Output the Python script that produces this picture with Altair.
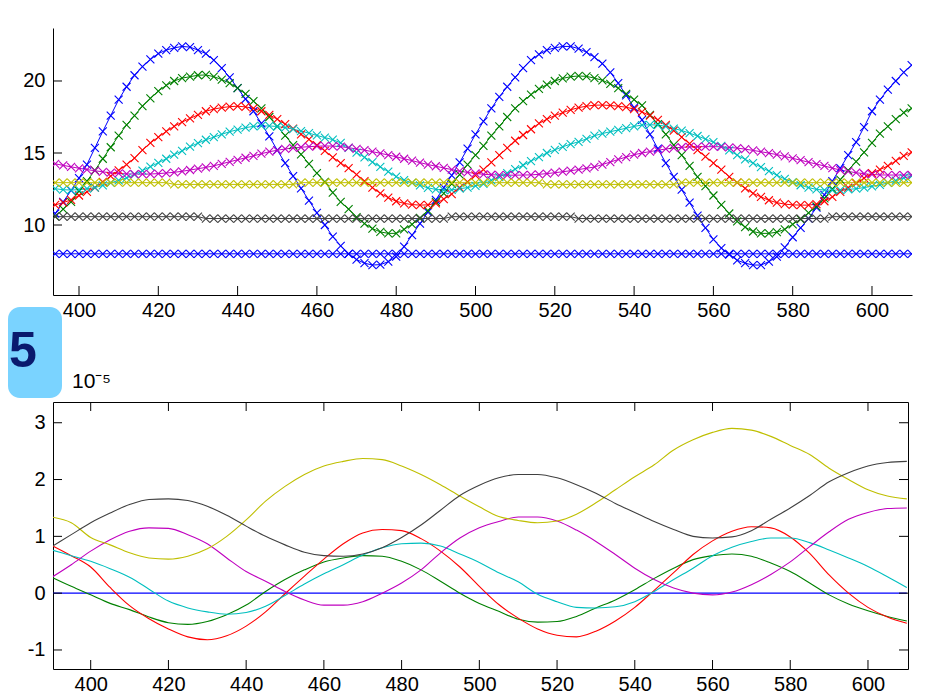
import altair as alt
import pandas as pd

FONT = "Liberation Sans, Arial, Helvetica, sans-serif"

# ---------------- top panel (wavelength grid) -------------
top_wl = list(range(394, 611, 2))

top_blue = [
    10.8, 11.6, 12.4, 13.25, 14.2, 15.35, 16.5, 17.6, 18.7, 19.6,
    20.4, 21.0, 21.5, 21.9, 22.15, 22.3, 22.4, 22.35, 22.15, 21.9,
    21.45, 20.9, 20.25, 19.5, 18.75, 17.9, 17.05, 16.15, 15.2, 14.3,
    13.4, 12.55, 11.7, 10.85, 10.0, 9.2, 8.55, 8.0, 7.6, 7.35,
    7.22, 7.25, 7.45, 7.8, 8.5, 9.3, 10.1, 10.9, 11.75, 12.6,
    13.45, 14.35, 15.3, 16.3, 17.2, 18.1, 18.9, 19.6, 20.25, 20.9,
    21.45, 21.85, 22.15, 22.3, 22.4, 22.4, 22.25, 22.0, 21.65, 21.2,
    20.6, 19.85, 19.0, 18.15, 17.3, 16.3, 15.3, 14.3, 13.35, 12.45,
    11.55, 10.65, 9.8, 9.0, 8.4, 7.95, 7.55, 7.35, 7.22, 7.22,
    7.45, 7.8, 8.45, 9.15, 9.8, 10.45, 11.2, 12.1, 13.05, 13.95,
    14.85, 15.75, 16.8, 17.9, 18.7, 19.4, 20.0, 20.6, 21.1,
]
top_green = [
    10.6, 11.1, 11.6, 12.35, 13.05, 13.8, 14.6, 15.4, 16.2, 16.95,
    17.6, 18.25, 18.8, 19.3, 19.7, 20.0, 20.2, 20.3, 20.4, 20.42,
    20.3, 20.1, 19.85, 19.5, 19.1, 18.6, 18.1, 17.5, 16.85, 16.2,
    15.55, 14.9, 14.25, 13.6, 13.0, 12.25, 11.6, 11.1, 10.55, 10.1,
    9.75, 9.52, 9.42, 9.42, 9.7, 10.05, 10.5, 11.0, 11.6, 12.2,
    12.85, 13.5, 14.2, 14.85, 15.5, 16.2, 16.85, 17.5, 18.1, 18.6,
    19.05, 19.45, 19.75, 20.0, 20.18, 20.3, 20.35, 20.32, 20.2, 20.05,
    19.8, 19.5, 19.1, 18.7, 18.3, 17.65, 17.0, 16.3, 15.55, 14.85,
    14.1, 13.35, 12.7, 12.05, 11.4, 10.8, 10.25, 9.85, 9.55, 9.42,
    9.42, 9.5, 9.7, 10.05, 10.4, 10.85, 11.3, 11.85, 12.5, 13.15,
    13.8, 14.4, 15.05, 15.7, 16.35, 16.85, 17.35, 17.8, 18.1,
]
top_red = [
    11.4, 11.55, 11.75, 12.05, 12.3, 12.6, 13.0, 13.4, 13.8, 14.2,
    14.65, 15.2, 15.7, 16.1, 16.5, 16.85, 17.15, 17.4, 17.65, 17.9,
    18.05, 18.15, 18.22, 18.25, 18.2, 18.1, 17.9, 17.65, 17.35, 17.0,
    16.7, 16.3, 15.95, 15.55, 15.15, 14.7, 14.3, 13.95, 13.5, 13.05,
    12.6, 12.2, 11.9, 11.65, 11.5, 11.42, 11.38, 11.4, 11.5, 11.8,
    12.15, 12.6, 13.0, 13.45, 13.85, 14.35, 14.85, 15.35, 15.85, 16.25,
    16.65, 17.05, 17.35, 17.6, 17.8, 18.0, 18.15, 18.25, 18.32, 18.33,
    18.3, 18.25, 18.18, 18.05, 17.85, 17.6, 17.3, 16.95, 16.55, 16.1,
    15.65, 15.2, 14.75, 14.3, 13.85, 13.35, 12.95, 12.55, 12.2, 11.95,
    11.72, 11.55, 11.45, 11.4, 11.38, 11.38, 11.45, 11.65, 11.95, 12.3,
    12.6, 12.9, 13.25, 13.6, 13.85, 14.1, 14.45, 14.8, 15.05,
]
top_cyan = [
    12.52, 12.45, 12.43, 12.45, 12.52, 12.6, 12.75, 12.92, 13.1, 13.27,
    13.5, 13.78, 14.05, 14.32, 14.6, 14.88, 15.15, 15.44, 15.68, 15.92,
    16.1, 16.3, 16.48, 16.62, 16.76, 16.85, 16.88, 16.88, 16.84, 16.76,
    16.66, 16.52, 16.38, 16.22, 16.07, 15.93, 15.7, 15.35, 15.02, 14.7,
    14.37, 14.04, 13.7, 13.36, 13.12, 12.92, 12.75, 12.58, 12.47, 12.43,
    12.44, 12.52, 12.6, 12.72, 12.85, 13.1, 13.33, 13.6, 13.88, 14.15,
    14.44, 14.72, 15.0, 15.22, 15.43, 15.62, 15.78, 15.98, 16.2, 16.35,
    16.48, 16.6, 16.72, 16.85, 16.94, 16.96, 16.94, 16.85, 16.7, 16.56,
    16.38, 16.18, 15.97, 15.75, 15.5, 15.18, 14.85, 14.56, 14.3, 14.02,
    13.74, 13.46, 13.2, 12.97, 12.76, 12.6, 12.47, 12.43, 12.42, 12.43,
    12.47, 12.52, 12.6, 12.69, 12.78, 12.92, 13.08, 13.27, 13.4,
]
top_magenta = [
    14.25, 14.14, 14.04, 13.94, 13.85, 13.77, 13.69, 13.63, 13.58, 13.55,
    13.54, 13.53, 13.54, 13.57, 13.61, 13.66, 13.73, 13.82, 13.91, 14.0,
    14.11, 14.25, 14.39, 14.53, 14.67, 14.8, 14.95, 15.09, 15.19, 15.28,
    15.35, 15.4, 15.44, 15.47, 15.49, 15.48, 15.44, 15.37, 15.28, 15.2,
    15.09, 14.98, 14.86, 14.74, 14.6, 14.47, 14.33, 14.2, 14.08, 13.96,
    13.85, 13.74, 13.65, 13.58, 13.52, 13.49, 13.47, 13.46, 13.46, 13.47,
    13.48, 13.52, 13.57, 13.63, 13.7, 13.77, 13.85, 13.94, 14.03, 14.2,
    14.37, 14.55, 14.72, 14.88, 15.0, 15.1, 15.19, 15.28, 15.35, 15.4,
    15.42, 15.44, 15.44, 15.44, 15.43, 15.39, 15.34, 15.27, 15.18, 15.09,
    14.99, 14.89, 14.76, 14.63, 14.5, 14.36, 14.23, 14.1, 13.95, 13.82,
    13.72, 13.63, 13.56, 13.51, 13.48, 13.47, 13.47, 13.47, 13.48,
]
top_yellow = [
    12.94, 12.94, 12.94, 12.94, 12.94, 12.94, 12.94, 12.94, 12.94, 12.94,
    12.94, 12.94, 12.94, 12.94, 12.94, 12.82, 12.82, 12.82, 12.82, 12.82,
    12.82, 12.82, 12.82, 12.82, 12.82, 12.82, 12.82, 12.82, 12.82, 12.82,
    12.82, 12.94, 12.94, 12.94, 12.94, 12.94, 12.94, 12.94, 12.94, 12.94,
    12.94, 12.94, 12.94, 12.94, 12.94, 12.94, 12.94, 12.94, 12.94, 12.94,
    12.94, 12.94, 12.94, 12.94, 12.94, 12.94, 12.94, 12.94, 12.94, 12.94,
    12.94, 12.94, 12.82, 12.82, 12.82, 12.82, 12.82, 12.82, 12.82, 12.82,
    12.82, 12.82, 12.82, 12.82, 12.82, 12.82, 12.82, 12.82, 12.82, 12.94,
    12.94, 12.94, 12.94, 12.94, 12.94, 12.94, 12.94, 12.94, 12.94, 12.94,
    12.94, 12.94, 12.94, 12.94, 12.94, 12.94, 12.94, 12.94, 12.94, 12.94,
    12.94, 12.94, 12.94, 12.94, 12.94, 12.94, 12.94, 12.94, 12.94,
]
top_gray = [
    10.58, 10.58, 10.58, 10.58, 10.58, 10.58, 10.58, 10.58, 10.58, 10.58,
    10.58, 10.58, 10.58, 10.58, 10.58, 10.58, 10.58, 10.58, 10.58, 10.45,
    10.45, 10.45, 10.45, 10.45, 10.45, 10.45, 10.45, 10.45, 10.45, 10.45,
    10.45, 10.45, 10.45, 10.45, 10.45, 10.45, 10.45, 10.45, 10.45, 10.45,
    10.45, 10.45, 10.45, 10.45, 10.45, 10.45, 10.45, 10.45, 10.45, 10.45,
    10.58, 10.58, 10.58, 10.58, 10.58, 10.58, 10.58, 10.58, 10.58, 10.58,
    10.58, 10.58, 10.58, 10.58, 10.58, 10.58, 10.45, 10.45, 10.45, 10.45,
    10.45, 10.45, 10.45, 10.45, 10.45, 10.45, 10.45, 10.45, 10.45, 10.45,
    10.45, 10.45, 10.45, 10.45, 10.45, 10.45, 10.45, 10.45, 10.45, 10.45,
    10.45, 10.45, 10.45, 10.45, 10.45, 10.45, 10.45, 10.45, 10.58, 10.58,
    10.58, 10.58, 10.58, 10.58, 10.58, 10.58, 10.58, 10.58, 10.58,
]
top_blue_flat = [
    8.0, 8.0, 8.0, 8.0, 8.0, 8.0, 8.0, 8.0, 8.0, 8.0,
    8.0, 8.0, 8.0, 8.0, 8.0, 8.0, 8.0, 8.0, 8.0, 8.0,
    8.0, 8.0, 8.0, 8.0, 8.0, 8.0, 8.0, 8.0, 8.0, 8.0,
    8.0, 8.0, 8.0, 8.0, 8.0, 8.0, 8.0, 8.0, 8.0, 8.0,
    8.0, 8.0, 8.0, 8.0, 8.0, 8.0, 8.0, 8.0, 8.0, 8.0,
    8.0, 8.0, 8.0, 8.0, 8.0, 8.0, 8.0, 8.0, 8.0, 8.0,
    8.0, 8.0, 8.0, 8.0, 8.0, 8.0, 8.0, 8.0, 8.0, 8.0,
    8.0, 8.0, 8.0, 8.0, 8.0, 8.0, 8.0, 8.0, 8.0, 8.0,
    8.0, 8.0, 8.0, 8.0, 8.0, 8.0, 8.0, 8.0, 8.0, 8.0,
    8.0, 8.0, 8.0, 8.0, 8.0, 8.0, 8.0, 8.0, 8.0, 8.0,
    8.0, 8.0, 8.0, 8.0, 8.0, 8.0, 8.0, 8.0, 8.0,
]

# ---------------- bottom panel (values in units of 1e-5) ---------------------------------
bot_wl = list(range(390, 611, 5))

bot_blue = [
    0.0, 0.0, 0.0, 0.0, 0.0, 0.0, 0.0, 0.0, 0.0, 0.0,
    0.0, 0.0, 0.0, 0.0, 0.0, 0.0, 0.0, 0.0, 0.0, 0.0,
    0.0, 0.0, 0.0, 0.0, 0.0, 0.0, 0.0, 0.0, 0.0, 0.0,
    0.0, 0.0, 0.0, 0.0, 0.0, 0.0, 0.0, 0.0, 0.0, 0.0,
    0.0, 0.0, 0.0, 0.0, 0.0,
]
bot_green = [
    0.28, 0.12, -0.03, -0.18, -0.29, -0.42, -0.52, -0.55, -0.5, -0.38,
    -0.21, 0.03, 0.24, 0.41, 0.55, 0.62, 0.66, 0.65, 0.56, 0.41,
    0.21, 0.0, -0.18, -0.32, -0.46, -0.51, -0.5, -0.41, -0.26, -0.12,
    0.06, 0.26, 0.44, 0.59, 0.66, 0.69, 0.65, 0.53, 0.38, 0.18,
    -0.03, -0.19, -0.31, -0.41, -0.49,
]
bot_red = [
    0.84, 0.66, 0.46, 0.1, -0.22, -0.45, -0.63, -0.77, -0.82, -0.75,
    -0.58, -0.33, -0.01, 0.3, 0.6, 0.87, 1.06, 1.12, 1.1, 0.96,
    0.74, 0.46, 0.12, -0.2, -0.44, -0.63, -0.74, -0.77, -0.67, -0.49,
    -0.25, 0.05, 0.36, 0.68, 0.92, 1.09, 1.17, 1.15, 0.99, 0.7,
    0.32, 0.0, -0.25, -0.42, -0.53,
]
bot_cyan = [
    0.76, 0.66, 0.56, 0.43, 0.28, 0.07, -0.14, -0.26, -0.33, -0.37,
    -0.34, -0.23, -0.04, 0.16, 0.34, 0.5, 0.67, 0.8, 0.87, 0.88,
    0.83, 0.69, 0.54, 0.36, 0.2, -0.02, -0.15, -0.25, -0.26, -0.24,
    -0.15, 0.03, 0.24, 0.44, 0.66, 0.81, 0.91, 0.97, 0.97, 0.89,
    0.76, 0.62, 0.47, 0.29, 0.1,
]
bot_magenta = [
    0.28, 0.5, 0.74, 0.94, 1.09, 1.15, 1.14, 1.03, 0.87, 0.62,
    0.38, 0.21, 0.03, -0.12, -0.21, -0.21, -0.15, 0.0, 0.18, 0.41,
    0.71, 0.97, 1.15, 1.26, 1.34, 1.34, 1.27, 1.11, 0.91, 0.68,
    0.44, 0.24, 0.09, 0.0, -0.03, 0.02, 0.15, 0.33, 0.55, 0.82,
    1.08, 1.3, 1.42, 1.49, 1.5,
]
bot_yellow = [
    1.34, 1.24, 0.98, 0.85, 0.71, 0.62, 0.6, 0.65, 0.78, 1.0,
    1.29, 1.62, 1.88, 2.09, 2.24, 2.32, 2.37, 2.35, 2.24, 2.09,
    1.91, 1.71, 1.52, 1.35, 1.28, 1.24, 1.27, 1.39, 1.59, 1.82,
    2.05, 2.26, 2.52, 2.7, 2.83, 2.9, 2.87, 2.76, 2.6, 2.44,
    2.2, 2.0, 1.82, 1.71, 1.66,
]
bot_gray = [
    0.82, 1.03, 1.24, 1.41, 1.56, 1.65, 1.66, 1.63, 1.53, 1.37,
    1.18, 1.0, 0.85, 0.72, 0.66, 0.65, 0.69, 0.8, 0.98, 1.2,
    1.46, 1.72, 1.9, 2.03, 2.09, 2.09, 2.03, 1.91, 1.76, 1.58,
    1.42, 1.26, 1.12, 1.0, 0.97, 0.99, 1.1, 1.3, 1.5, 1.72,
    1.96, 2.12, 2.24, 2.3, 2.32,
]

x_ticks = [400, 420, 440, 460, 480, 500, 520, 540, 560, 580, 600]
top_y_ticks = [10, 15, 20]
bot_y_ticks = [-1, 0, 1, 2, 3]

top_names = ["s1", "s2", "s3", "s4", "s5", "s6", "s7", "s8"]
top_colors = ["#0000FF", "#008000", "#FF0000", "#00BFBF", "#BF00BF", "#BFBF00", "#404040", "#0000FF"]
top_values = [top_blue, top_green, top_red, top_cyan, top_magenta, top_yellow, top_gray, top_blue_flat]

bot_names = ["b1", "b2", "b3", "b4", "b5", "b6", "b7"]
bot_colors = ["#0000FF", "#008000", "#FF0000", "#00BFBF", "#BF00BF", "#BFBF00", "#404040"]
bot_values = [bot_blue, bot_green, bot_red, bot_cyan, bot_magenta, bot_yellow, bot_gray]


def long_df(xs, names, values):
    rows = []
    for name, vals in zip(names, values):
        assert len(vals) == len(xs), name
        for x, v in zip(xs, vals):
            rows.append({"wl": x, "v": v, "s": name})
    return pd.DataFrame(rows)


top_df = long_df(top_wl, top_names, top_values)
bot_df = long_df(bot_wl, bot_names, bot_values)

W1, H1 = 859, 267
W2, H2 = 855, 267
TICK = 9

label_style = dict(labelFont=FONT, labelFontSize=20, labelColor="black", grid=False,
                   ticks=False, tickSize=0, title=None, labelFlush=False, labelOverlap=False)

# ---------------- top chart ----------------
xsc1 = alt.Scale(domain=[393.44, 610.09], nice=False, zero=False)
ysc1 = alt.Scale(domain=[5.14, 23.68], nice=False, zero=False)
ax_x1 = alt.Axis(values=x_ticks, labelPadding=5, domain=True, domainColor="black",
                 domainWidth=1, **label_style)
ax_y1 = alt.Axis(values=top_y_ticks, labelPadding=8, domain=True, domainColor="black",
                 domainWidth=1, labelExpr="'' + datum.value", **label_style)

X1 = alt.X("wl:Q", scale=xsc1, axis=ax_x1)
Y1 = alt.Y("v:Q", scale=ysc1, axis=ax_y1)
C1 = alt.Color("s:N", scale=alt.Scale(domain=top_names, range=top_colors), legend=None)

base1 = alt.Chart(top_df).encode(x=X1, y=Y1, color=C1)
lines1 = base1.mark_line(strokeWidth=1, clip=True)
pts1 = base1.mark_point(shape="M-1,-1L1,1M-1,1L1,-1", size=64, filled=False,
                        strokeWidth=1.1, opacity=1, clip=True)

xt_df = pd.DataFrame({"t": x_ticks})
yt1_df = pd.DataFrame({"t": top_y_ticks})
xtick1 = alt.Chart(xt_df).mark_rule(color="black", strokeWidth=1).encode(
    x=alt.X("t:Q", scale=xsc1, axis=ax_x1), y=alt.value(H1), y2=alt.value(H1 - TICK))
ytick1 = alt.Chart(yt1_df).mark_rule(color="black", strokeWidth=1).encode(
    y=alt.Y("t:Q", scale=ysc1, axis=ax_y1), x=alt.value(0), x2=alt.value(TICK))

# slide decoration: the light-blue slide-number badge at the left edge
badge_df = pd.DataFrame({"label": ["5"]})
badge = alt.Chart(badge_df).mark_rect(color="#7AD3FF", cornerRadius=12).encode(
    x=alt.value(-45), x2=alt.value(9), y=alt.value(279), y2=alt.value(370))
badge_text = alt.Chart(badge_df).mark_text(
    font=FONT, fontSize=50, fontWeight="bold", color="#0A1A6E", align="left",
    baseline="alphabetic").encode(text="label:N", x=alt.value(-44), y=alt.value(339))

top = alt.layer(lines1, pts1, xtick1, ytick1, badge, badge_text).properties(
    width=W1, height=H1, view=alt.ViewBackground(strokeWidth=0))

# ---------------- bottom chart ----------------
xsc2 = alt.Scale(domain=[390.3, 610.3], nice=False, zero=False)
ysc2 = alt.Scale(domain=[-1.335, 3.365], nice=False, zero=False)
ax_x2 = alt.Axis(values=x_ticks, labelPadding=5, domain=False, **label_style)
ax_y2 = alt.Axis(values=bot_y_ticks, labelPadding=8, domain=False,
                 labelExpr="'' + datum.value", **label_style)

X2 = alt.X("wl:Q", scale=xsc2, axis=ax_x2)
Y2 = alt.Y("v:Q", scale=ysc2, axis=ax_y2)
C2 = alt.Color("s:N", scale=alt.Scale(domain=bot_names, range=bot_colors), legend=None)

lines2 = alt.Chart(bot_df).mark_line(strokeWidth=1.1, clip=True, interpolate="monotone").encode(
    x=X2, y=Y2, color=C2)

yt2_df = pd.DataFrame({"t": bot_y_ticks})
xtick2b = alt.Chart(xt_df).mark_rule(color="black", strokeWidth=1).encode(
    x=alt.X("t:Q", scale=xsc2, axis=ax_x2), y=alt.value(H2), y2=alt.value(H2 - TICK))
xtick2t = alt.Chart(xt_df).mark_rule(color="black", strokeWidth=1).encode(
    x=alt.X("t:Q", scale=xsc2, axis=ax_x2), y=alt.value(0), y2=alt.value(TICK))
ytick2l = alt.Chart(yt2_df).mark_rule(color="black", strokeWidth=1).encode(
    y=alt.Y("t:Q", scale=ysc2, axis=ax_y2), x=alt.value(0), x2=alt.value(TICK))
ytick2r = alt.Chart(yt2_df).mark_rule(color="black", strokeWidth=1).encode(
    y=alt.Y("t:Q", scale=ysc2, axis=ax_y2), x=alt.value(W2), x2=alt.value(W2 - TICK))

bottom = alt.layer(lines2, xtick2b, xtick2t, ytick2l, ytick2r).properties(
    width=W2, height=H2,
    view=alt.ViewBackground(stroke="black", strokeWidth=1),
    title=alt.TitleParams(text="10⁻⁵", anchor="start", frame="group", dx=19, dy=22, offset=15,
                          baseline="alphabetic", font=FONT, fontSize=21,
                          fontWeight="normal", color="black"),
)

chart = alt.vconcat(top, bottom, spacing=107, bounds="flush").properties(
    padding={"left": 0, "top": 20, "right": 4, "bottom": 4},
    background="white",
)

chart.save("out.html", embed_options={"renderer": "svg", "actions": False})
